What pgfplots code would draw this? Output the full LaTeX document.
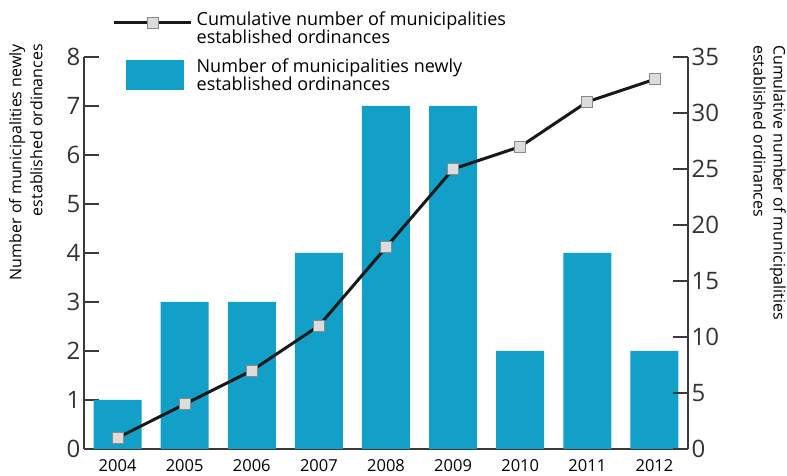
\documentclass[border=0pt]{standalone}
\usepackage{pgfplots}
\pgfplotsset{compat=1.18}
\usepackage{fontspec}
\setmainfont{Open Sans}
\definecolor{barblue}{HTML}{12A0C8}
\definecolor{axgray}{HTML}{3A3A3A}
\definecolor{lblgray}{HTML}{333333}
\definecolor{mkfill}{HTML}{DCDCDC}
\definecolor{mkdraw}{HTML}{8A8A8A}
\pgfplotsset{
  linelegend/.style={legend image code/.code={
    \path[draw=none, fill=none] (0pt,-15pt) rectangle (81pt,15pt);
    \draw[mark repeat=2, mark phase=2, ##1, line width=3pt] plot coordinates {(0pt,6pt) (39pt,6pt) (77pt,6pt)};
  }},
  barlegend/.style={legend image code/.code={
    \path[draw=none, fill=none] (0pt,-15pt) rectangle (81pt,15pt);
    \fill[##1] (12pt,-15pt) rectangle (70pt,15pt);
  }},
}
\begin{document}
\begin{tikzpicture}
\useasboundingbox (-84pt,-27pt) rectangle (703pt,449pt);
\begin{axis}[
  at={(0pt,0pt)}, anchor=south west,
  scale only axis, width=604pt, height=392pt,
  xmin=-0.5, xmax=8.5, ymin=0, ymax=8, enlargelimits=false,
  axis x line*=bottom, axis y line*=left,
  axis line style={axgray, line width=1.4pt},
  /pgf/number format/assume math mode=true,
  tick align=inside, major tick length=15pt,
  tick style={axgray, line width=1.4pt},
  xtick={0,...,8},
  xticklabels={2004,2005,2006,2007,2008,2009,2010,2011,2012},
  x tick style={draw=none},
  extra x ticks={0.5,1.5,2.5,3.5,4.5,5.5,6.5,7.5},
  extra x tick labels={},
  extra x tick style={major tick length=8pt, tick style={draw=axgray, line width=1.4pt}},
  xticklabel style={font=\fontsize{16.5}{16}\selectfont, text=black, yshift=-7pt},
  ytick={0,...,8},
  yticklabel style={font=\fontsize{24}{24}\selectfont, text=lblgray},
]
\addplot[ybar, bar width=48pt, fill=barblue, draw=none] coordinates {
(0,1) (1,3) (2,3) (3,4) (4,7) (5,7) (6,2) (7,4) (8,2)};
\end{axis}
\begin{axis}[
  at={(0pt,0pt)}, anchor=south west,
  scale only axis, width=604pt, height=392pt,
  xmin=-0.5, xmax=8.5, ymin=0, ymax=35, enlargelimits=false,
  axis x line=none, axis y line*=right,
  axis line style={axgray, line width=1.4pt},
  /pgf/number format/assume math mode=true,
  tick align=inside, major tick length=15pt,
  tick style={axgray, line width=1.4pt},
  ytick={0,5,...,35},
  yticklabel style={font=\fontsize{24}{24}\selectfont, text=lblgray},
  clip=false,
  legend style={at={(rel axis cs:0.0463,1.12)}, anchor=north west, draw=none, fill=none,
    font=\fontsize{18}{18}\selectfont, inner sep=0pt, row sep=9pt,
    cells={anchor=west, align=left}},
]
\addplot[color={black!90}, line width=3pt, mark=square*, mark size=5.5pt,
  mark options={fill=mkfill, draw=mkdraw, line width=0.8pt}, linelegend] coordinates {
(0,1) (1,4) (2,7) (3,11) (4,18) (5,25) (6,27) (7,31) (8,33)};
\addlegendentry{Cumulative number of municipalities\\established ordinances}
\addlegendimage{fill=barblue, draw=none, barlegend}
\addlegendentry{Number of municipalities newly\\established ordinances}
\end{axis}
\node[rotate=90, anchor=north east, align=right, inner sep=0pt,
  font=\fontsize{16}{21}\selectfont] at (-75pt,405pt)
  {Number of municipalities newly\\established ordinances};
\node[rotate=-90, anchor=north west, align=left, inner sep=0pt,
  font=\fontsize{16}{20}\selectfont] at (702pt,404pt)
  {Cumulative number of municipalities\\established ordinances};
\end{tikzpicture}
\end{document}
